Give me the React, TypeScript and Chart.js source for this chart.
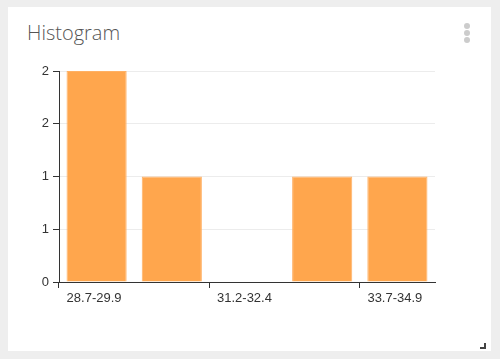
import React, { useEffect, useRef } from "react";
import { Chart, registerables } from "chart.js";

Chart.register(...registerables);

const categories = ["28.7-29.9", "29.9-31.2", "31.2-32.4", "32.4-33.7", "33.7-34.9"];
const counts = [2, 1, 0, 1, 1];
const yTicks = [0, 0.5, 1, 1.5, 2];

export default function App() {
  const ref = useRef<HTMLCanvasElement | null>(null);

  useEffect(() => {
    document.body.style.margin = "0";
    const ctx = ref.current!;
    const chart = new Chart(ctx, {
      type: "bar",
      data: {
        labels: categories,
        datasets: [
          {
            data: counts,
            backgroundColor: "rgb(255,166,77)",
            borderColor: "rgb(255,176,100)",
            borderWidth: 1,
            barPercentage: 0.8,
            categoryPercentage: 1,
          },
        ],
      },
      options: {
        animation: false,
        responsive: false,
        maintainAspectRatio: false,
        layout: { padding: { left: 0, top: 71, right: 65, bottom: 20 } },
        plugins: { legend: { display: false }, tooltip: { enabled: false }, title: { display: false } },
        scales: {
          x: {
            type: "category",
            offset: true,
            grid: {
              offset: true,
              drawOnChartArea: false,
              drawTicks: true,
              tickLength: 6,
              tickColor: (c: any) => (c.index % 2 === 0 || c.index === categories.length ? "#333" : "rgba(0,0,0,0)"),
            },
            border: { display: true, color: "#333", width: 1 },
            ticks: {
              autoSkip: false,
              maxRotation: 0,
              minRotation: 0,
              align: "start",
              labelOffset: -30,
              padding: 3,
              color: "#333",
              font: { family: "'Liberation Sans', Arial, sans-serif", size: 13 },
              callback: (_v: any, i: number) => (i % 2 === 0 ? categories[i] : ""),
            },
            afterFit: (s: any) => {
              s.height = 359 - 20 - 282;
            },
          },
          y: {
            min: 0,
            max: 2,
            afterBuildTicks: (s: any) => {
              s.ticks = yTicks.map((v) => ({ value: v }));
            },
            grid: {
              color: "#ececec",
              tickColor: "#333",
              tickLength: 6,
              drawTicks: true,
            },
            border: { display: true, color: "#333", width: 1 },
            ticks: {
              padding: 4,
              color: "#333",
              font: { family: "'Liberation Sans', Arial, sans-serif", size: 13 },
              callback: (v: any) => String(Math.round(Number(v))),
            },
            afterFit: (s: any) => {
              s.width = 59;
            },
          },
        },
      },
    });
    return () => chart.destroy();
  }, []);

  return (
    <div style={{ position: "fixed", left: 0, top: 0, width: 500, height: 359, background: "#eeeeee", overflow: "hidden" }}>
      <div style={{ position: "absolute", left: 8, top: 7, width: 483, height: 344, background: "#ffffff" }} />
      <div
        style={{
          position: "absolute",
          left: 27,
          top: 19,
          fontFamily: "'Open Sans', sans-serif",
          fontWeight: 300,
          fontSize: 20,
          color: "#555",
          lineHeight: "28px",
        }}
      >
        Histogram
      </div>
      {[26, 33, 40].map((y) => (
        <div
          key={y}
          style={{ position: "absolute", left: 464, top: y - 3, width: 6, height: 6, borderRadius: 3, background: "#cccccc" }}
        />
      ))}
      <div
        style={{
          position: "absolute",
          left: 480,
          top: 343,
          width: 4,
          height: 4,
          borderRight: "2px solid #444",
          borderBottom: "2px solid #444",
        }}
      />
      <canvas ref={ref} width={500} height={359} style={{ position: "absolute", left: 0, top: 0, width: 500, height: 359 }} />
    </div>
  );
}
